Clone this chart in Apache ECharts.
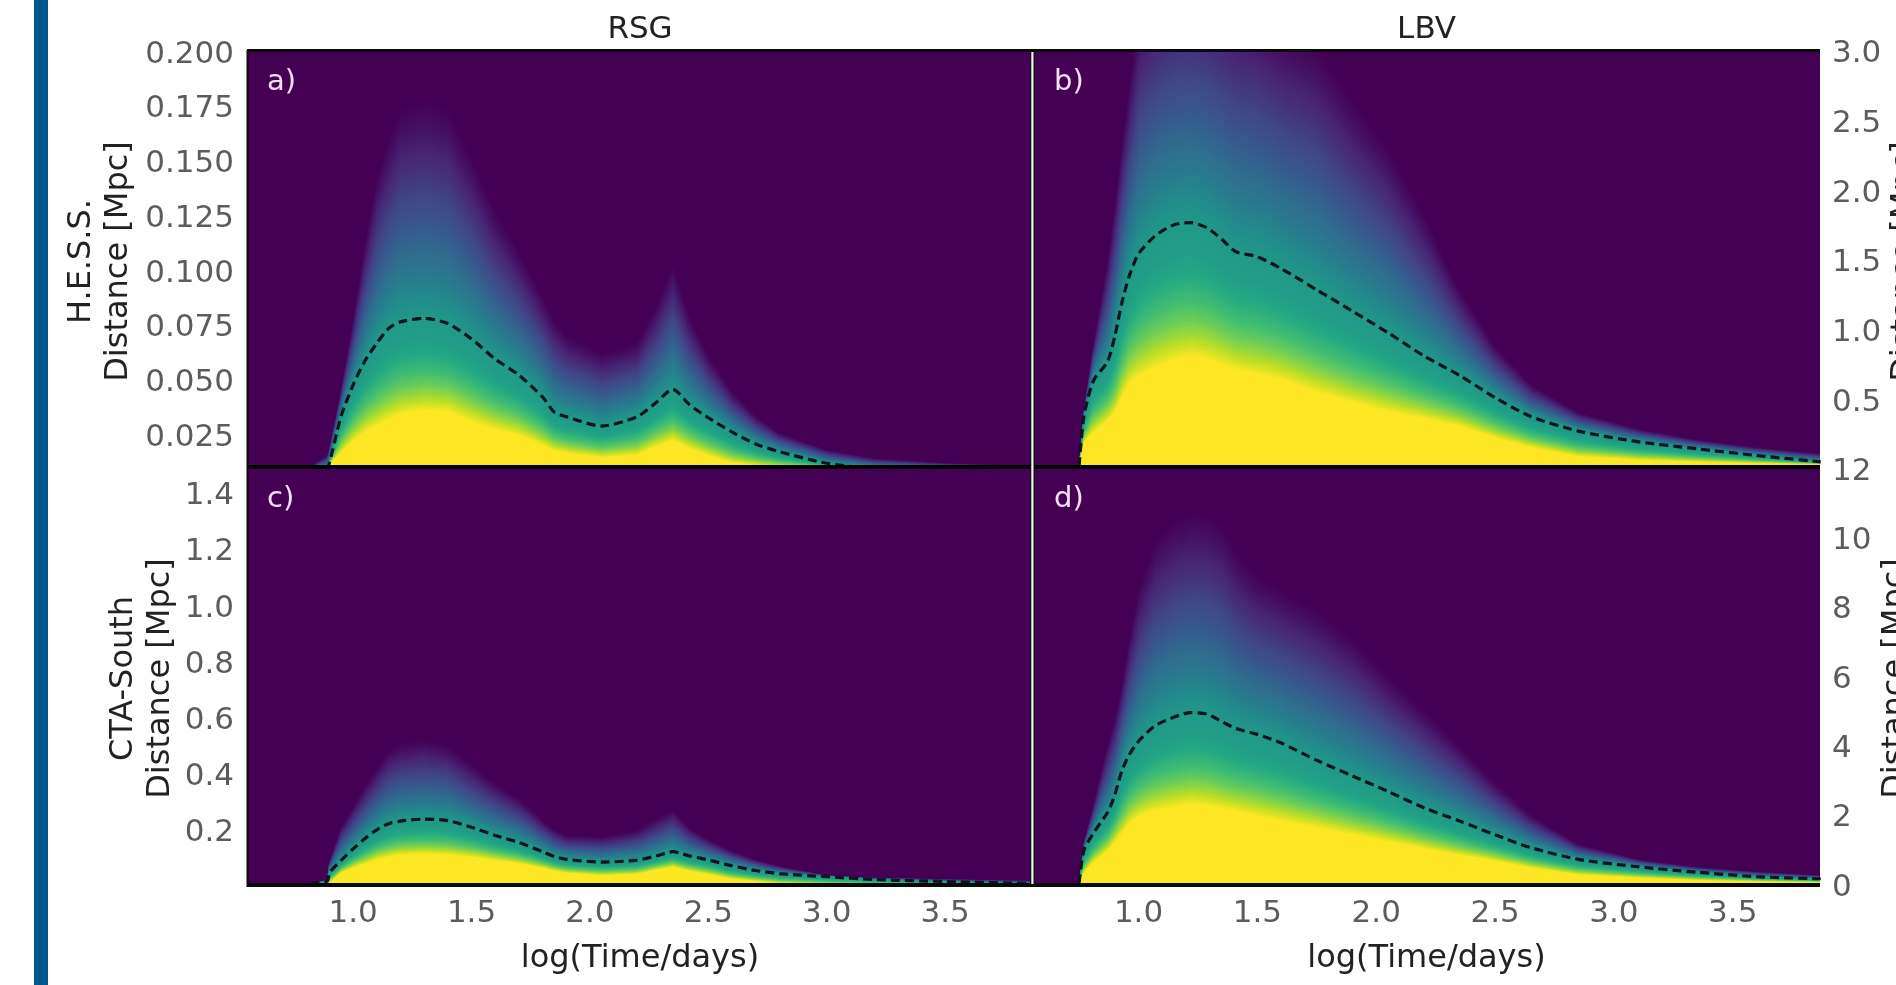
<!DOCTYPE html>
<html><head><meta charset="utf-8">
<style>html,body{margin:0;padding:0;background:#fff;overflow:hidden}#c{width:1896px;height:985px;filter:blur(.6px)}</style>
<script src="https://cdn.jsdelivr.net/npm/echarts@6/dist/echarts.min.js"></script>
</head><body><div id="c"></div>
<script>
// log(Time/days) columns
const timeRSG=[.82,.89,.90,.95,1.0,1.05,1.1,1.15,1.2,1.3,1.4,1.5,1.6,1.7,1.8,1.85,1.9,2.05,2.2,2.28,2.35,2.42,2.5,2.6,2.7,2.8,3.0,3.2,3.5,3.87];
const timeLBV=[.75,.77,.81,.87,.90,.93,.96,1.0,1.07,1.15,1.22,1.29,1.35,1.41,1.5,1.6,1.75,1.9,2.05,2.2,2.35,2.5,2.65,2.85,3.1,3.35,3.6,3.87];
// Distance [Mpc]: top of solid yellow, dashed contour, top of the purple fade
const aYellow=[.0090,.0098,.0115,.0172,.0225,.0268,.0298,.0325,.0350,.0370,.0362,.0315,.0280,.0252,.0205,.0182,.0170,.0150,.0162,.0200,.0228,.0192,.0160,.0125,.0113,.0105,.0100,.0098,.0096,.0094];
const aDashed=[.0095,.0103,.0125,.0340,.0480,.0590,.0670,.0738,.0768,.0784,.0760,.0690,.0598,.0525,.0425,.0355,.0335,.0292,.0335,.0400,.0460,.0390,.0330,.0265,.0210,.0175,.0122,.0100,.0098,.0096];
const aTop=[.0110,.0160,.0193,.0469,.0790,.1150,.1450,.1620,.1745,.1790,.1745,.1530,.1290,.1100,.0890,.0790,.0715,.0630,.0680,.0850,.1040,.0810,.0625,.0455,.0340,.0265,.0186,.0146,.0124,.0108];
const cYellow=[.006,.006,.012,.050,.068,.082,.098,.108,.115,.119,.115,.106,.095,.083,.067,.057,.050,.041,.046,.060,.071,.057,.045,.028,.020,.013,.008,.006,.006,.006];
const cDashed=[.012,.020,.050,.095,.135,.172,.203,.225,.234,.241,.236,.212,.183,.158,.125,.108,.098,.088,.095,.110,.125,.110,.096,.075,.058,.047,.036,.026,.019,.012];
const cTop=[.012,.025,.090,.220,.290,.365,.430,.494,.515,.530,.510,.440,.375,.320,.240,.208,.185,.180,.205,.245,.279,.215,.172,.130,.098,.075,.041,.033,.028,.022];
const bYellow=[.03,.20,.27,.36,.42,.53,.623,.68,.745,.80,.827,.806,.765,.725,.695,.655,.563,.49,.425,.375,.32,.235,.165,.10,.075,.06,.05,.04];
const bDashed=[.03,.384,.64,.78,.96,1.20,1.387,1.55,1.68,1.76,1.774,1.736,1.655,1.566,1.53,1.445,1.293,1.14,.985,.82,.68,.52,.385,.28,.204,.153,.105,.06];
const bTop=[.03,.45,.9,1.55,1.95,2.4,2.78,3.3,3.5,3.6,3.62,3.58,3.5,3.42,3.35,3.2,3.05,2.68,2.33,1.85,1.32,.90,.62,.42,.30,.22,.165,.12];
const dYellow=[.08,.35,.65,1.0,1.25,1.5,1.78,2.0,2.17,2.28,2.36,2.31,2.23,2.15,2.02,1.87,1.68,1.47,1.27,1.06,.87,.70,.50,.30,.21,.14,.10,.07];
const dDashed=[.05,1.0,1.5,2.1,2.6,3.3,3.75,4.15,4.6,4.85,4.98,4.93,4.72,4.52,4.35,4.10,3.6,3.15,2.7,2.23,1.85,1.45,1.08,.74,.527,.37,.24,.18];
const dTop=[.1,1.3,2.3,4.2,4.9,5.9,7.2,8.7,10.0,10.6,10.8,10.75,10.45,9.7,9.0,8.6,8.0,7.2,6.1,5.1,4.1,3.0,2.05,1.2,.75,.52,.39,.28];
// tick labels
const xTicks=[1.0,1.5,2.0,2.5,3.0,3.5];
const aTicks=[.025,.05,.075,.1,.125,.15,.175,.2];
const bTicks=[.5,1,1.5,2,2.5,3];
const cTicks=[.2,.4,.6,.8,1,1.2,1.4];
const dTicks=[0,2,4,6,8,10,12];

const viridis=['#440154','#482475','#414487','#355f8d','#2a788e','#21918c','#22a884','#44bf70','#7ad151','#bddf26','#fde725'];
function hex(c){return [1,3,5].map(i=>parseInt(c.substr(i,2),16));}
function col(v){v=Math.max(0,Math.min(1,v))*10;const i=Math.min(9,Math.floor(v)),f=v-i,a=hex(viridis[i]),b=hex(viridis[i+1]);
 return 'rgb('+a.map((x,k)=>Math.round(x+(b[k]-x)*f)).join(',')+')';}
const V_DASH=.54,N_UP=60,N_LOW=36;
// bands from the top of the fade down to the yellow, each a share of the read contours
const bands=[];
for(let i=0;i<N_UP;i++){const q=1-i/N_UP;bands.push({seg:1,t:q,c:col(V_DASH*Math.pow(1-q,1.15))});}
for(let i=0;i<=N_LOW;i++){const p=i/N_LOW;bands.push({seg:0,t:p,c:col(V_DASH+(1-V_DASH)*p*p)});}

function level(b,y,d,t){return b.seg?d+(t-d)*b.t:d+(y-d)*b.t;}
function renderColumn(params,api){
 const v=i=>api.value(i), ymin=v(8);
 const x0=v(0),y0=v(1),d0=v(2),t0=v(3),x1=v(4),y1=v(5),d1=v(6),t1=v(7);
 const px0=Math.round(api.coord([x0,ymin])[0]),px1=Math.round(api.coord([x1,ymin])[0]),pb=api.coord([x0,ymin])[1];
 const children=bands.map(b=>({type:'polygon',shape:{points:[[px0,pb],[px0,api.coord([x0,level(b,y0,d0,t0)])[1]],[px1,api.coord([x1,level(b,y1,d1,t1)])[1]],[px1,pb]]},style:{fill:b.c}}));
 return {type:'group',children};
}
function columns(xs,y,d,t,ymin){const r=[];for(let i=0;i<xs.length-1;i++)r.push([xs[i],y[i],d[i],t[i],xs[i+1],y[i+1],d[i+1],t[i+1],ymin]);return r;}

const F='"DejaVu Sans"',FS=31,NS=32,TICK='#5c5c5c',INK='#222';
const xMin=.556,xMax=3.867;
const panels=[
 {x:timeRSG,y:aYellow,d:aDashed,t:aTop,min:.0105,max:.2005,ticks:aTicks,fix:3,pos:'left',name:'H.E.S.S.\nDistance [Mpc]',gap:111,top:true,title:'RSG'},
 {x:timeLBV,y:bYellow,d:bDashed,t:bTop,min:.0226,max:3.005,ticks:bTicks,fix:1,pos:'right',name:'Distance [Mpc]',gap:66,top:true,title:'LBV'},
 {x:timeRSG,y:cYellow,d:cDashed,t:cTop,min:.0065,max:1.495,ticks:cTicks,fix:1,pos:'left',name:'CTA-South\nDistance [Mpc]',gap:69},
 {x:timeLBV,y:dYellow,d:dDashed,t:dTop,min:0,max:12.07,ticks:dTicks,fix:0,pos:'right',name:'Distance [Mpc]',gap:57},
];
const grids=[{left:248,top:51,width:784,height:416},{left:1033,top:51,width:787,height:416},{left:248,top:467,width:784,height:418},{left:1033,top:467,width:787,height:418}]
 .map(g=>({...g,show:true,backgroundColor:'#440154',borderWidth:0,containLabel:false,outerBoundsMode:'none'}));
const xAxes=panels.map((p,i)=>({type:'value',gridIndex:i,min:xMin,max:xMax,position:p.top?'top':'bottom',
 splitLine:{show:false},axisLine:{show:false},axisTick:{show:false},
 axisLabel:p.top?{show:false}:{show:true,customValues:xTicks,formatter:v=>v.toFixed(1),color:TICK,fontFamily:F,fontSize:FS,margin:13},
 name:p.top?p.title:'log(Time/days)',nameLocation:'middle',nameGap:p.top?6:58,
 nameTextStyle:{color:INK,fontFamily:F,fontSize:p.top?31:NS}}));
const yAxes=panels.map((p,i)=>({type:'value',gridIndex:i,min:p.min,max:p.max,position:p.pos,
 splitLine:{show:false},axisLine:{show:false},axisTick:{show:false},
 axisLabel:{customValues:p.ticks,formatter:v=>v.toFixed(p.fix),color:TICK,fontFamily:F,fontSize:FS,margin:p.pos==='left'?14:12,verticalAlign:'top',lineHeight:5},
 name:p.name,nameLocation:'middle',nameGap:p.gap,nameRotate:90,
 nameTextStyle:{color:INK,fontFamily:F,fontSize:NS,lineHeight:37,padding:[0,5,0,0]}}));
const series=[];
panels.forEach((p,i)=>{
 series.push({type:'custom',xAxisIndex:i,yAxisIndex:i,clip:true,silent:true,animation:false,progressive:0,
  renderItem:renderColumn,data:columns(p.x,p.y,p.d,p.t,p.min),encode:{x:0,y:1},z:2});
 series.push({type:'line',xAxisIndex:i,yAxisIndex:i,clip:true,silent:true,animation:false,symbol:'none',smooth:.25,z:3,
  data:p.x.map((x,k)=>[x,p.d[k]]),lineStyle:{color:'#0c141c',width:3.2,type:[9,5]}});
});
const rect=(x,y,w,h,fill)=>({type:'rect',z:50,silent:true,shape:{x,y,width:w,height:h},style:{fill}});
const mark=(s,x,y)=>({type:'text',z:51,silent:true,x,y,style:{text:s,fill:'#f3dff3',font:'29px '+F,textVerticalAlign:'middle'}});
const graphic=[
 rect(34,0,14,985,'#00568f'),
 rect(247,49,1573,3,'#0a0a0a'),rect(247,465,1573,4,'#000'),rect(247,883,1573,4,'#0a0a0a'),rect(246.5,50,2,837,'#0a0a0a'),
 rect(1030,52,5,832,'#111'),rect(1031.3,52,2.2,832,'#f2f2f2'),
 mark('a)',267,82),mark('b)',1054,82),mark('c)',267,499),mark('d)',1054,499)
];
const chart=echarts.init(document.getElementById('c'),null,{renderer:'canvas',width:1896,height:985});
chart.setOption({animation:false,backgroundColor:'#fff',grid:grids,xAxis:xAxes,yAxis:yAxes,series,graphic});
</script></body></html>
